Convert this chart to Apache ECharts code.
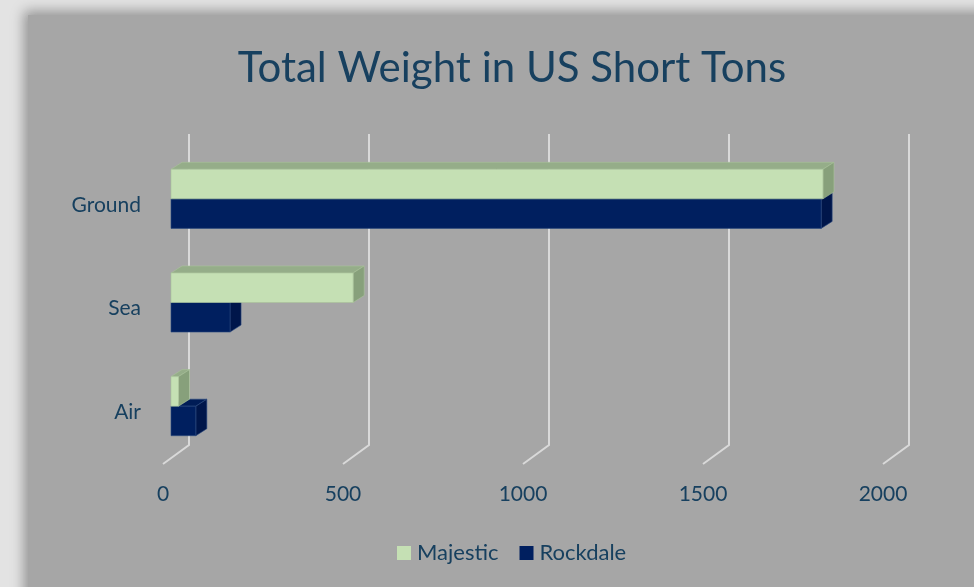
<!DOCTYPE html>
<html>
<head>
<meta charset="utf-8">
<script src="https://cdn.jsdelivr.net/npm/echarts@6/dist/echarts.min.js"></script>
<style>
html,body{margin:0;padding:0;background:#e3e3e3;width:974px;height:587px;overflow:hidden;}
#panel{position:absolute;left:28px;top:15px;width:960px;height:590px;background:#a6a6a6;box-shadow:0 0 12px 4px rgba(0,0,0,0.35);}
#chart{position:absolute;left:0;top:0;width:974px;height:587px;}
</style>
</head>
<body>
<div id="panel"></div>
<div id="chart"></div>
<script>
var categories = ['Air', 'Sea', 'Ground'];
var majestic = [21, 506, 1811];
var rockdale = [69, 164, 1806];
var xTicks = [0, 500, 1000, 1500, 2000];

var TEXT = '#17405f';
var FONT = 'Lato';

var chart = echarts.init(document.getElementById('chart'), null, {renderer: 'canvas'});

// 3D geometry offsets (pixels)
var WALL_DX = 26, WALL_DY = -19;   // back wall offset from front plane
var BAR_DX = 8, BAR_DY = -6;       // bar front face offset from front plane
var DEP_DX = 11, DEP_DY = -7;      // bar depth

function barRenderer(slot, colors) {
  return function (params, api) {
    var v = api.value(0), c = api.value(1);
    var p0 = api.coord([0, c]);
    var p1 = api.coord([v, c]);
    var band = api.size([0, 1])[1];
    var h = band * 0.285;
    var xl = p0[0] + BAR_DX, xr = p1[0] + BAR_DX;
    var cy = p0[1] + BAR_DY;
    var yt = slot === 0 ? cy - h : cy;
    var yb = yt + h;
    return {
      type: 'group',
      children: [
        {type: 'polygon', shape: {points: [[xl, yt], [xl + DEP_DX, yt + DEP_DY], [xr + DEP_DX, yt + DEP_DY], [xr, yt]]},
         style: {fill: colors.top, stroke: colors.edge, lineWidth: 0.6}},
        {type: 'polygon', shape: {points: [[xr, yt], [xr + DEP_DX, yt + DEP_DY], [xr + DEP_DX, yb + DEP_DY], [xr, yb]]},
         style: {fill: colors.side, stroke: colors.edge, lineWidth: 0.6}},
        {type: 'rect', shape: {x: xl, y: yt, width: xr - xl, height: h},
         style: {fill: colors.front, stroke: colors.edge, lineWidth: 0.6}}
      ]
    };
  };
}

var gridRenderer = function (params, api) {
  var v = api.value(0);
  var cs = params.coordSys;
  var x = api.coord([v, 0])[0];
  var bottom = cs.y + cs.height, top = cs.y;
  return {
    type: 'polyline',
    shape: {points: [[x, bottom], [x + WALL_DX, bottom + WALL_DY], [x + WALL_DX, top + WALL_DY]]},
    style: {stroke: '#d9d9d9', lineWidth: 2, fill: null}
  };
};

var majData = majestic.map(function (v, i) { return [v, i]; });
var rockData = rockdale.map(function (v, i) { return [v, i]; });
var gridData = xTicks.map(function (v) { return [v, 0]; });

chart.setOption({
  backgroundColor: 'transparent',
  animation: false,
  title: {
    text: 'Total Weight in US Short Tons',
    left: 507, top: 42, textAlign: 'center',
    textStyle: {color: TEXT, fontFamily: FONT, fontSize: 42, fontWeight: 'normal'}
  },
  legend: {
    data: ['Majestic', 'Rockdale'],
    left: 397, top: 542, padding: 0,
    icon: 'rect', itemWidth: 14, itemHeight: 14, itemGap: 21,
    textStyle: {color: TEXT, fontFamily: FONT, fontSize: 22, padding: [0, 0, 0, 1]}
  },
  grid: {left: 163, top: 153, width: 720, height: 311},
  xAxis: {
    type: 'value', min: 0, max: 2000, interval: 500,
    axisLine: {show: false}, axisTick: {show: false}, splitLine: {show: false},
    axisLabel: {color: TEXT, fontFamily: FONT, fontSize: 21, margin: 20,
      formatter: function (v) { return String(v); }}
  },
  yAxis: {
    type: 'category', data: categories,
    axisLine: {show: false}, axisTick: {show: false}, splitLine: {show: false},
    axisLabel: {color: TEXT, fontFamily: FONT, fontSize: 21, margin: 22, padding: [5, 0, 0, 0]}
  },
  series: [
    {type: 'custom', name: 'gridlines', data: gridData, renderItem: gridRenderer, z: 1, silent: true,
     encode: {x: 0, y: 1}},
    {type: 'custom', name: 'Rockdale', data: rockData, z: 2,
     itemStyle: {color: '#001f5f'}, encode: {x: 0, y: 1},
     renderItem: barRenderer(1, {front: '#001f5f', top: '#001c56', side: '#00164a', edge: '#2a4a80'})},
    {type: 'custom', name: 'Majestic', data: majData, z: 3,
     itemStyle: {color: '#c5e0b4'}, encode: {x: 0, y: 1},
     renderItem: barRenderer(0, {front: '#c5e0b4', top: '#95ad89', side: '#87a07b', edge: '#a9c29b'})}
  ]
});
</script>
</body>
</html>
